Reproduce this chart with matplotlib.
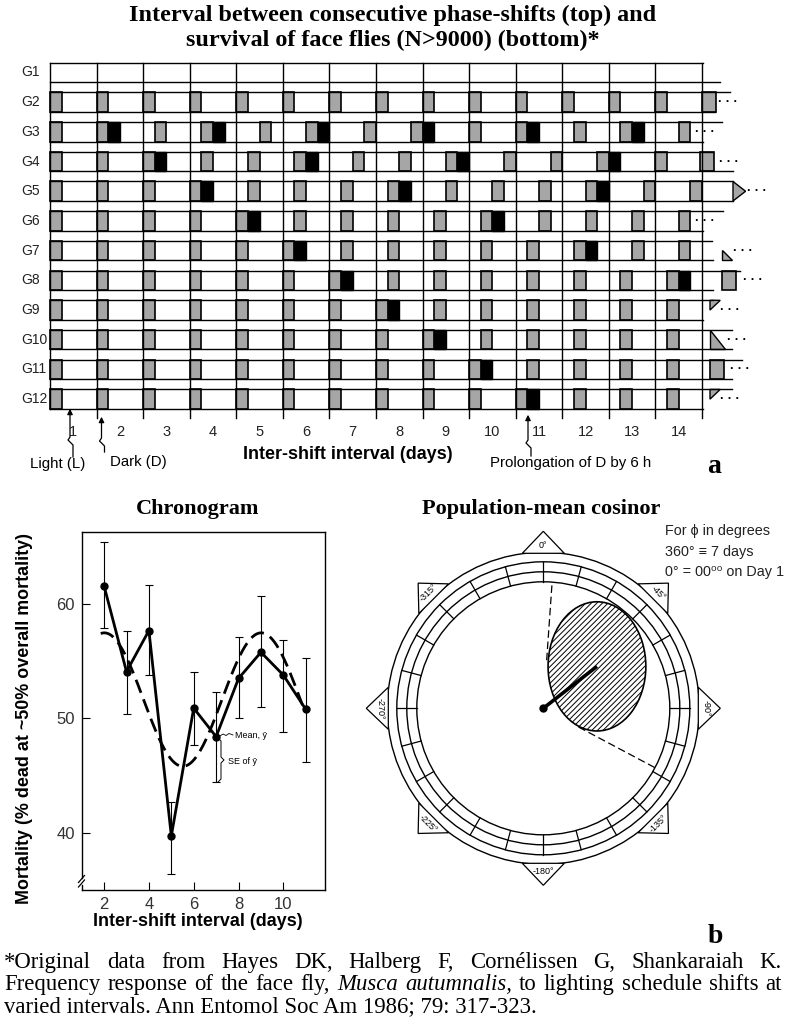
import numpy as np
import matplotlib
matplotlib.use("Agg")
import matplotlib.pyplot as plt
from matplotlib import font_manager
from matplotlib.patches import Rectangle, Polygon, Ellipse, Circle

# ---- panel a: lighting schedule of the 12 groups ----
groups = ["G1", "G2", "G3", "G4", "G5", "G6", "G7", "G8", "G9", "G10", "G11", "G12"]
shift_interval = [None, 0, 2, 3, 4, 5, 6, 7, 8, 9, 10, 11]  # None: no dark span, 0: never shifted
day_labels = [str(d) for d in range(1, 15)]
DARK = 0.25  # 6 h of dark per day; each shift adds another 6 h of dark

# ---- panel b: chronogram ----
intervals = [2, 3, 4, 5, 6, 7, 8, 9, 10, 11]
mortality = [61.6, 54.1, 57.7, 39.7, 50.9, 48.4, 53.5, 55.8, 53.8, 50.8]
se_top = [65.5, 57.7, 61.7, 42.7, 54.1, 52.3, 57.1, 60.7, 56.9, 55.3]
se_bottom = [57.9, 50.4, 53.8, 36.4, 47.7, 44.4, 50.0, 51.0, 48.8, 46.2]

# ---- panel b: population-mean cosinor, period 7 days ----
MESOR = 51.65
AMPLITUDE = 5.85
ACROPHASE = -52          # degrees, 360 = 7 days
ci_phase = [-4, -118]
ci_ellipse = [8.4, 11.1]  # width, height of the confidence region (% mortality)
phase_marks = [0, -45, -90, -135, -180, -225, -270, -315]

avail = {f.name for f in font_manager.fontManager.ttflist}
if "Liberation Sans Narrow" in avail:
    NARROW, NF = "Liberation Sans Narrow", 1.0
else:
    NARROW, NF = "Liberation Sans", 0.83
SANS = ["Liberation Sans", "DejaVu Sans"]
SANS_N = [NARROW, "DejaVu Sans"]
SERIF = ["Liberation Serif", "DejaVu Serif"]
plt.rcParams["font.family"] = SANS
plt.rcParams["hatch.linewidth"] = 0.7

W, H = 786, 1029
fig = plt.figure(figsize=(W / 100, H / 100), dpi=100)


def px_axes(x0, y0, x1, y1):
    return fig.add_axes([x0 / W, 1 - y1 / H, (x1 - x0) / W, (y1 - y0) / H])


over = px_axes(0, 0, W, H)
over.set_xlim(0, W)
over.set_ylim(H, 0)
over.axis("off")
over.set_zorder(5)

# titles
over.text(W / 2, 21, "Interval between consecutive phase-shifts (top) and", ha="center",
          va="baseline", family=SERIF, fontsize=17.4, fontweight="bold")
over.text(W / 2, 46, "survival of face flies (N>9000) (bottom)*", ha="center",
          va="baseline", family=SERIF, fontsize=17.4, fontweight="bold")

# ================= panel a =================
PXD = 46.57   # px per day
ROW = 29.7    # px per group row
BAND = 19.5 / ROW
GRAY = "#a6a6a6"
ax_a = px_axes(0, 45, W, 480)
ax_a.set_xlim(-50 / PXD, (W - 50) / PXD)
ax_a.set_ylim((480 - 62.7) / ROW, (45 - 62.7) / ROW)
ax_a.axis("off")


def schedule(k, end=14.0):
    out, t, n = [], 0.0, 0
    while t + DARK <= end + 1e-9:
        shift = k > 0 and n % k == k - 1
        out.append((t, shift))
        t += 1 + (DARK if shift else 0)
        n += 1
    return out


def d(px):
    return (px - 50) / PXD


top_end = [703, 730, 722, 713, 733, 723, 712, 740, 713, 732, 742, 732]
bot_end = [720, 715, 703, 733, 733, 703, 713, 713, 703, 732, 732, 703]
tails = [None, ("box", 702), None, ("box", 700), ("arrow", 733), None, ("low", 722),
         ("box", 722), ("top", 710), ("full", 710), ("box", 710), ("top", 710)]
dots = [None, 718, 695, 719, 747, 695, 733, 743, 720, 727, 730, 720]

last = len(groups) - 1 + BAND
for day in range(15):
    ax_a.plot([day, day], [0, last if day == 0 else last + 0.3], color="k", lw=1)

for i, (g, k) in enumerate(zip(groups, shift_interval)):
    ax_a.plot([0, d(top_end[i])], [i, i], color="k", lw=1)
    ax_a.plot([0, d(bot_end[i])], [i + BAND, i + BAND], color="k", lw=1)
    ax_a.text(d(21), i + BAND / 2, g, ha="left", va="center", fontsize=10, color="#222")
    if k is None:
        continue
    for s, shift in schedule(k):
        ax_a.add_patch(Rectangle((s, i), DARK, BAND, fc=GRAY, ec="k", lw=1.2))
        if shift:
            ax_a.add_patch(Rectangle((s + DARK, i), DARK, BAND, fc="k", ec="k", lw=1))
    kind, x = tails[i] if tails[i] else (None, 0)
    x = d(x)
    if kind == "box":
        ax_a.add_patch(Rectangle((x, i), 0.3, BAND, fc=GRAY, ec="k", lw=1.2))
    elif kind == "arrow":
        ax_a.add_patch(Polygon([(x, i), (x, i + BAND), (x + 0.27, i + BAND * 0.5)],
                               fc=GRAY, ec="k", lw=1))
    elif kind == "low":
        ax_a.add_patch(Polygon([(x, i + BAND * 0.45), (x, i + BAND), (x + 0.22, i + BAND)],
                               fc=GRAY, ec="k", lw=1))
    elif kind == "top":
        ax_a.add_patch(Polygon([(x, i), (x, i + BAND * 0.5), (x + 0.22, i)],
                               fc=GRAY, ec="k", lw=1))
    elif kind == "full":
        ax_a.add_patch(Polygon([(x, i), (x, i + BAND), (x + 0.32, i + BAND)],
                               fc=GRAY, ec="k", lw=1))
    if dots[i]:
        ax_a.text(d(dots[i]), i + BAND / 2, "· · ·", ha="left", va="center",
                  fontsize=9, fontweight="bold")

for day, lab in enumerate(day_labels, start=1):
    ax_a.text(day - 0.5, (432 - 62.7) / ROW, lab, ha="center", va="center",
              fontsize=10.5, color="#222")


def bolt(x, y_head, kink, y_tail):
    over.plot([x, x, x - 2, x + 3, x + 3], [y_head + 6, kink, kink + 3, kink + 8, y_tail],
              color="k", lw=0.9)
    over.annotate("", xy=(x, y_head), xytext=(x, y_head + 9),
                  arrowprops=dict(arrowstyle="-|>", color="k", lw=0.9, mutation_scale=8))


bolt(70, 406, 437, 457)
bolt(101.5, 414, 438, 452)
bolt(528, 412, 440, 456)
over.text(30, 468, "Light (L)", ha="left", va="baseline", family=SANS_N, fontsize=13 * NF)
over.text(110, 466, "Dark (D)", ha="left", va="baseline", family=SANS_N, fontsize=13 * NF)
over.text(490, 467, "Prolongation of D by 6 h", ha="left", va="baseline",
          family=SANS_N, fontsize=13 * NF)
over.text(348, 459, "Inter-shift interval (days)", ha="center", va="baseline",
          family=SANS_N, fontsize=15.5 * NF, fontweight="bold")
over.text(714, 473, "a", ha="center", va="baseline", family=SERIF, fontsize=20,
          fontweight="bold")

# ================= panel b: chronogram =================
ax_c = px_axes(81.7, 532, 325, 890)
ax_c.set_xlim(1.0, 11.86)
ax_c.set_ylim(34.96, 66.34)
yerr = [np.subtract(mortality, se_bottom), np.subtract(se_top, mortality)]
ax_c.errorbar(intervals, mortality, yerr=yerr, fmt="none", ecolor="k", elinewidth=0.8,
              capsize=3, capthick=0.8)
peak_day = 1 + (-ACROPHASE / 360) * 7
xx = np.linspace(1.85, 10.95, 300)
ax_c.plot(xx, MESOR + AMPLITUDE * np.cos(2 * np.pi * (xx - peak_day) / 7), color="k",
          lw=2, dashes=(5, 2.5))
ax_c.plot(intervals, mortality, color="k", lw=2, marker="o", ms=5)
ax_c.set_xticks([2, 4, 6, 8, 10])
ax_c.set_yticks([40, 50, 60])
ax_c.tick_params(direction="in", length=6, width=0.8, labelsize=12, pad=5,
                 labelcolor="#333")
for sp in ax_c.spines.values():
    sp.set_linewidth(1)
ax_c.spines["left"].set_bounds(36.0, 66.34)
over.plot([81.7, 81.7], [885, 890], color="k", lw=1)
over.plot([78.5, 84.5], [882.5, 875.5], color="k", lw=0.9)
over.plot([78.5, 84.5], [887, 880], color="k", lw=0.9)

over.text(235, 736, "Mean, ȳ", ha="left", va="center", fontsize=6.5)
over.plot([219, 223, 226, 229, 233], [736.5, 734, 735.5, 733.5, 735], color="k", lw=0.6)
over.text(228, 761, "SE of ȳ", ha="left", va="center", fontsize=6.5)
over.plot([218, 221, 221, 224, 221, 221, 218], [738, 741, 757, 760, 763, 779, 782],
          color="k", lw=0.7)

over.text(197.5, 514, "Chronogram", ha="center", va="baseline", family=SERIF,
          fontsize=16, fontweight="bold")
over.text(25, 718, "Mortality (% dead at ~50% overall mortality)", rotation=90,
          ha="center", va="center", family=SANS_N, fontsize=15.5 * NF, fontweight="bold")
over.text(197.5, 926, "Inter-shift interval (days)", ha="center", va="baseline",
          family=SANS_N, fontsize=15.5 * NF, fontweight="bold")

# ================= panel b: cosinor =================
ax_p = px_axes(363.3, 528.3, 723.3, 888.3)
ax_p.set_xlim(-180, 180)
ax_p.set_ylim(-180, 180)
ax_p.axis("off")
S = 11.64  # px per % mortality on the polar plot
rings = [126.5, 136.5, 146.5, 156]
for r in rings:
    ax_p.add_patch(Circle((0, 0), r, fill=False, ec="k", lw=1))
for a in np.radians(np.arange(0, 360, 15)):
    ax_p.plot([rings[0] * np.sin(a), rings[2] * np.sin(a)],
              [rings[0] * np.cos(a), rings[2] * np.cos(a)], color="k", lw=0.9)
for ph in phase_marks:
    a = np.radians(-ph)
    u = np.array([np.sin(a), np.cos(a)])
    v = np.array([np.cos(a), -np.sin(a)])
    tri = [155 * u + 21 * v, 155 * u - 21 * v, 177 * u]
    ax_p.add_patch(Polygon(tri, fc="white", ec="k", lw=0.9))
    rot = (ph + 90) % 180 - 90
    ax_p.text(*(163 * u), f"{ph}°", rotation=rot, ha="center", va="center",
              fontsize=6.5, rotation_mode="anchor")

a = np.radians(-ACROPHASE)
tip = AMPLITUDE * S * np.array([np.sin(a), np.cos(a)])
ew, eh = ci_ellipse[0] * S, ci_ellipse[1] * S
ax_p.add_patch(Ellipse(tip, ew, eh, fc="white", ec="k", lw=1.2, hatch="//////"))
t = np.linspace(0, rings[0], 3000)
for ph in ci_phase:
    b = np.radians(-ph)
    ux, uy = np.sin(b), np.cos(b)
    f = ((t * ux - tip[0]) / (ew / 2)) ** 2 + ((t * uy - tip[1]) / (eh / 2)) ** 2
    t0 = t[f <= 1].max() if (f <= 1).any() else t[np.argmin(f)]
    ax_p.plot([t0 * ux, rings[0] * ux], [t0 * uy, rings[0] * uy], color="k", lw=0.9,
              dashes=(6, 3))
ax_p.plot([0, tip[0]], [0, tip[1]], color="k", lw=2.6, solid_capstyle="butt")
ax_p.plot(0, 0, "o", color="k", ms=5)

over.text(541, 514, "Population-mean cosinor", ha="center", va="baseline", family=SERIF,
          fontsize=16, fontweight="bold")
for yy, line in zip([535, 556, 576], ["For ϕ in degrees", "360° ≡ 7 days",
                                      "0° = 00⁰⁰ on Day 1"]):
    over.text(665, yy, line, ha="left", va="baseline", family=SANS_N, fontsize=12.5 * NF,
              color="#222")
over.text(715, 943, "b", ha="center", va="baseline", family=SERIF, fontsize=20,
          fontweight="bold")

# ================= footnote =================
renderer = fig.canvas.get_renderer()
CAP = 16.4


def justified(words, y, x0=4, x1=782, size=CAP):
    objs = [over.text(0, y, w, ha="left", va="baseline", family=SERIF, fontsize=size,
                      style=st) for w, st in words]
    widths = [o.get_window_extent(renderer).width for o in objs]
    gap = (x1 - x0 - sum(widths)) / (len(objs) - 1)
    x = x0
    for o, wd in zip(objs, widths):
        o.set_x(x)
        x += wd + gap


line1 = "*Original data from Hayes DK, Halberg F, Cornélissen G, Shankaraiah K.".split()
justified([(w, "normal") for w in line1], 968)
line2 = [(w, "normal") for w in "Frequency response of the face fly,".split()]
line2 += [("Musca", "italic"), ("autumnalis,", "italic")]
line2 += [(w, "normal") for w in "to lighting schedule shifts at".split()]
justified(line2, 990)
over.text(4, 1012, "varied intervals. Ann Entomol Soc Am 1986; 79: 317-323.", ha="left",
          va="baseline", family=SERIF, fontsize=CAP)

fig.savefig("out.png", dpi=100)
